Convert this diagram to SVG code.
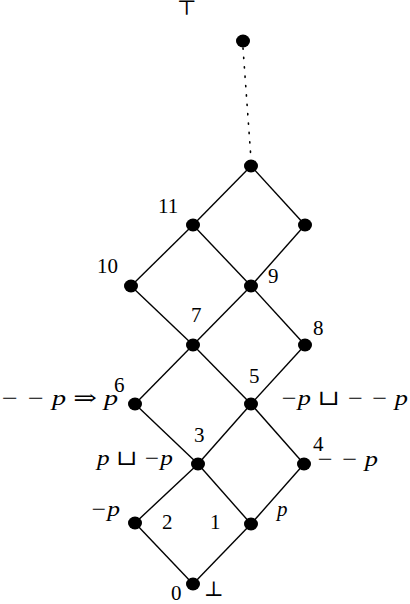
<svg xmlns="http://www.w3.org/2000/svg" width="410" height="604" viewBox="0 0 410 604">
<style>
.e{stroke:#000;stroke-width:1.4;fill:none}
.d{stroke:#000;stroke-width:1.6;fill:none;stroke-dasharray:1.2 8.2;stroke-linecap:round}
.n{fill:#000}
text{font-family:"Liberation Serif","Times New Roman","DejaVu Serif",serif;font-size:21px;fill:#000}
.m{font-style:italic}
</style>
<rect width="410" height="604" fill="#fff"/>
<g id="connectors">
<line class="d" x1="243" y1="48" x2="251" y2="159"/>
<line class="e" x1="251" y1="166" x2="193" y2="225"/>
<line class="e" x1="251" y1="166" x2="305" y2="225"/>
<line class="e" x1="193" y1="225" x2="131" y2="286"/>
<line class="e" x1="193" y1="225" x2="251" y2="286"/>
<line class="e" x1="305" y1="225" x2="251" y2="286"/>
<line class="e" x1="131" y1="286" x2="193" y2="345"/>
<line class="e" x1="251" y1="286" x2="193" y2="345"/>
<line class="e" x1="251" y1="286" x2="305" y2="345"/>
<line class="e" x1="193" y1="345" x2="135" y2="404"/>
<line class="e" x1="193" y1="345" x2="251" y2="404"/>
<line class="e" x1="305" y1="345" x2="251" y2="404"/>
<line class="e" x1="135" y1="404" x2="198" y2="464"/>
<line class="e" x1="251" y1="404" x2="198" y2="464"/>
<line class="e" x1="251" y1="404" x2="304" y2="464"/>
<line class="e" x1="198" y1="464" x2="135" y2="523"/>
<line class="e" x1="198" y1="464" x2="251" y2="524"/>
<line class="e" x1="304" y1="464" x2="251" y2="524"/>
<line class="e" x1="135" y1="523" x2="193" y2="584"/>
<line class="e" x1="251" y1="524" x2="193" y2="584"/>
</g>
<g id="top"><ellipse class="n" cx="243" cy="41" rx="7" ry="6.5"/><text x="177" y="15">⊤</text></g>
<g id="nA"><ellipse class="n" cx="251" cy="166" rx="7" ry="6.5"/></g>
<g id="n11"><ellipse class="n" cx="193" cy="225" rx="7" ry="6.5"/><text x="158" y="213">11</text></g>
<g id="nR"><ellipse class="n" cx="305" cy="225" rx="7" ry="6.5"/></g>
<g id="n10"><ellipse class="n" cx="131" cy="286" rx="7" ry="6.5"/><text x="97" y="273">10</text></g>
<g id="n9"><ellipse class="n" cx="251" cy="286" rx="7" ry="6.5"/><text x="268" y="283">9</text></g>
<g id="n7"><ellipse class="n" cx="193" cy="345" rx="7" ry="6.5"/><text x="191" y="322">7</text></g>
<g id="n8"><ellipse class="n" cx="305" cy="345" rx="7" ry="6.5"/><text x="313" y="335">8</text></g>
<g id="n6"><ellipse class="n" cx="135" cy="404" rx="7" ry="6.5"/><text x="114" y="392">6</text><text class="m" x="0" y="405" textLength="118" lengthAdjust="spacingAndGlyphs">− − p ⇒ p</text></g>
<g id="n5"><ellipse class="n" cx="251" cy="404" rx="7" ry="6.5"/><text x="249" y="383">5</text><text class="m" x="280" y="405" textLength="128" lengthAdjust="spacingAndGlyphs">−p ⊔ − − p</text></g>
<g id="n3"><ellipse class="n" cx="198" cy="464" rx="7" ry="6.5"/><text x="194" y="442">3</text><text class="m" x="97" y="465" textLength="76" lengthAdjust="spacingAndGlyphs">p ⊔ −p</text></g>
<g id="n4"><ellipse class="n" cx="304" cy="464" rx="7" ry="6.5"/><text x="313" y="451">4</text><text class="m" x="316" y="466" textLength="62" lengthAdjust="spacingAndGlyphs">− − p</text></g>
<g id="n2"><ellipse class="n" cx="135" cy="523" rx="7" ry="6.5"/><text x="162" y="529">2</text><text class="m" x="90" y="516" textLength="30" lengthAdjust="spacingAndGlyphs">−p</text></g>
<g id="n1"><ellipse class="n" cx="251" cy="524" rx="7" ry="6.5"/><text x="210" y="529">1</text><text class="m" x="277" y="516">p</text></g>
<g id="n0"><ellipse class="n" cx="193" cy="584" rx="7" ry="6.5"/><text x="171" y="600">0</text><text x="204" y="596">⊥</text></g>
</svg>
